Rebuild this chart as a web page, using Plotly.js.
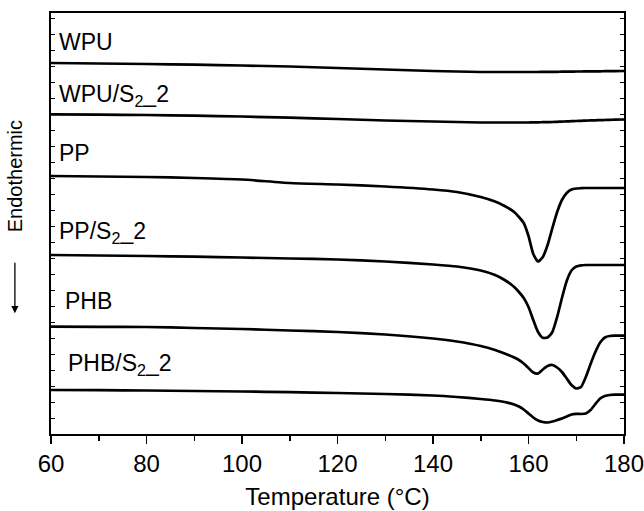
<!DOCTYPE html>
<html>
<head>
<meta charset="utf-8">
<script src="https://cdn.plot.ly/plotly-3.0.1.min.js"></script>
<style>html,body{margin:0;padding:0;background:#fff;}#chart{width:644px;height:511px;}</style>
</head>
<body>
<div id="chart"></div>
<script>
// Temperature (°C)
var temperature = [60,70,80,90,100,110,120,130,140,145,150,153,155,157,158,159,160,161,162,163,164,165,166,167,168,169,170,171,172,173,174,175,176,177,178,180];

// Heat flow (arbitrary units, stacked with offsets)
var wpu = [37.1,37.05,37.0,36.93,36.85,36.75,36.6,36.45,36.3,36.25,36.2,36.2,36.2,36.2,36.2,36.2,36.2,36.2,36.2,36.21,36.21,36.22,36.22,36.23,36.23,36.24,36.25,36.25,36.26,36.26,36.27,36.27,36.28,36.28,36.29,36.3];
var wpuS = [31.97,31.94,31.9,31.83,31.75,31.63,31.5,31.35,31.25,31.2,31.15,31.15,31.15,31.15,31.15,31.15,31.15,31.16,31.17,31.18,31.19,31.2,31.22,31.24,31.26,31.28,31.3,31.32,31.34,31.36,31.37,31.39,31.4,31.42,31.43,31.45];
var pp = [25.8,25.75,25.7,25.6,25.45,25.1,24.95,24.75,24.45,24.2,23.7,23.25,22.8,22.2,21.7,21.1,19.8,18.0,17.25,17.7,18.9,20.6,22.2,23.4,24.1,24.45,24.55,24.58,24.6,24.6,24.6,24.6,24.6,24.6,24.6,24.6];
var ppS = [17.9,17.85,17.8,17.73,17.65,17.55,17.45,17.25,16.95,16.75,16.35,15.9,15.4,14.7,14.2,13.6,12.7,11.4,10.2,9.62,9.65,10.2,11.7,13.6,15.3,16.35,16.75,16.87,16.9,16.9,16.9,16.9,16.9,16.9,16.9,16.9];
var phb = [10.73,10.72,10.7,10.6,10.5,10.35,10.2,9.95,9.55,9.25,8.8,8.4,8.05,7.65,7.4,7.05,6.6,6.15,6.05,6.45,6.8,6.9,6.65,6.2,5.55,4.9,4.55,4.7,5.7,7.0,8.2,9.15,9.65,9.8,9.83,9.83];
var phbS = [4.4,4.38,4.35,4.3,4.25,4.18,4.1,4.0,3.85,3.7,3.5,3.35,3.2,2.95,2.75,2.45,2.05,1.65,1.35,1.2,1.15,1.25,1.4,1.55,1.75,1.95,2.02,2.0,2.05,2.4,3.0,3.55,3.8,3.9,3.93,3.93];

var seriesNames = ['WPU','WPU/S<sub>2</sub>_2','PP','PP/S<sub>2</sub>_2','PHB','PHB/S<sub>2</sub>_2'];
var seriesValues = [wpu, wpuS, pp, ppS, phb, phbS];
// label anchor positions (temperature, heat flow)
var labelX = [61.2, 61.2, 61.2, 61.2, 62.5, 63.2];
var labelY = [39.2, 33.9, 28.1, 20.2, 13.3, 7.0];

var font = 'Arial, "Liberation Sans", Helvetica, sans-serif';

var traces = seriesValues.map(function(v, i){
  return {x: temperature, y: v, type: 'scatter', mode: 'lines', name: seriesNames[i],
    line: {color: '#000', width: 2.7, shape: 'spline', smoothing: 0.55}, showlegend: false, hoverinfo: 'skip'};
});

var annotations = seriesNames.map(function(n, i){
  return {x: labelX[i], y: labelY[i], xref: 'x', yref: 'y', text: n, showarrow: false,
    xanchor: 'left', yanchor: 'middle', font: {family: font, size: 23, color: '#000'}};
});
annotations.push({xref: 'paper', yref: 'paper', x: -0.063, y: 0.612, text: 'Endothermic', textangle: -90,
  showarrow: false, xanchor: 'center', yanchor: 'middle', font: {family: font, size: 20, color: '#000'}});
annotations.push({xref: 'paper', yref: 'paper', x: -0.063, y: 0.287, text: '', showarrow: true,
  ax: 0, ay: -52, arrowhead: 2, arrowsize: 1.1, arrowwidth: 1.3, arrowcolor: '#000'});

var layout = {
  width: 644, height: 511,
  margin: {l: 51, r: 20, t: 13, b: 77},
  paper_bgcolor: '#fff', plot_bgcolor: '#fff',
  font: {family: font, color: '#000'},
  xaxis: {range: [60, 180], tickmode: 'array', tickvals: [60,80,100,120,140,160,180],
    ticks: 'outside', ticklen: 8, tickwidth: 1.5, tickcolor: '#000', ticklabeloverflow: 'allow',
    minor: {tickvals: [70,90,110,130,150,170], ticks: 'outside', ticklen: 5, tickwidth: 1.5, tickcolor: '#000'},
    showline: true, linewidth: 1.6, linecolor: '#000', mirror: true, showgrid: false, zeroline: false,
    tickfont: {family: font, size: 24, color: '#000'},
    title: {text: 'Temperature (°C)', font: {family: font, size: 24, color: '#000'}, standoff: 12}},
  xaxis2: {overlaying: 'x', side: 'top', range: [60, 180], tickmode: 'array',
    tickvals: [70,80,90,100,110,120,130,140,150,160,170], ticks: 'inside', ticklen: 4, tickwidth: 1, tickcolor: '#000',
    showticklabels: false, showline: false, showgrid: false, zeroline: false},
  yaxis: {range: [0, 42.1], showticklabels: false, ticks: 'inside', ticklen: 4, tickwidth: 1, tickcolor: '#000', dtick: 1.6,
    showline: true, linewidth: 1.6, linecolor: '#000', mirror: 'ticks', showgrid: false, zeroline: false},
  annotations: annotations
};

Plotly.newPlot('chart', traces, layout, {staticPlot: true});
</script>
</body>
</html>
